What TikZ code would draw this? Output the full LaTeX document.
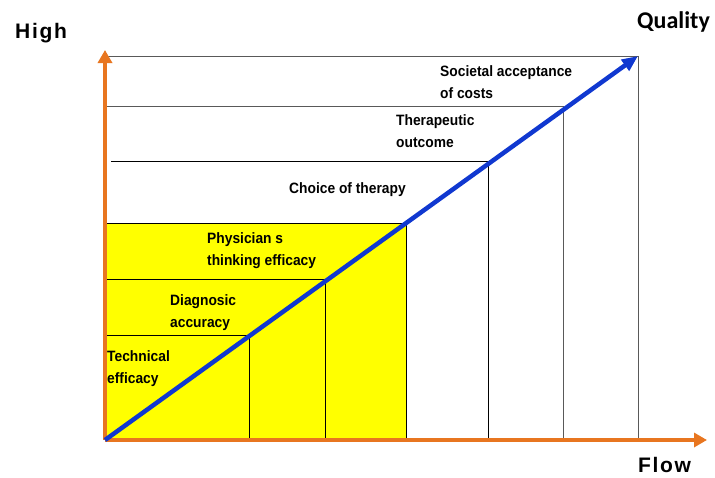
\documentclass[tikz,border=0pt]{standalone}
\usepackage{fontspec}
\usetikzlibrary{arrows.meta}
\newfontfamily\lblfont{Liberation Sans}[FakeStretch=0.92]
\newfontfamily\axfont{Liberation Sans}[LetterSpace=8]
\newfontfamily\qfont{Carlito}
\definecolor{axisorange}{RGB}{232,118,32}
\definecolor{qualblue}{RGB}{16,56,208}
\definecolor{boxyellow}{RGB}{255,255,0}
\tikzset{grid/.style={draw=black,line width=0.8pt},
         greygrid/.style={draw=black!65,line width=1pt},
         axis/.style={draw=axisorange,line width=4.5pt,-{Triangle[width=14pt,length=13pt]}},
         label/.style={font=\lblfont\bfseries\fontsize{15}{21.5}\selectfont,align=left,inner sep=0pt,anchor=base west},
         axlabel/.style={font=\axfont\bfseries\fontsize{21}{24}\selectfont,inner sep=0pt,anchor=base west}}

\begin{document}
\begin{tikzpicture}[x=1pt,y=-1pt]
        \useasboundingbox (0,0) rectangle (715,477);
        \coordinate (O) at (105,440);
        \coordinate (ytop) at (105,50);
        \coordinate (xend) at (707,440);
        \coordinate (q) at (638,56);

        \fill[boxyellow] (105,223) rectangle (406,440);

        \draw[greygrid] (105,56)--(638,56)--(638,440);
        \draw[greygrid] (105,106)--(563,106)--(563,440);
        \draw[grid] (111,161)--(488,161)--(488,440);
        \draw[grid] (105,223)--(406,223)--(406,440);
        \draw[grid] (105,279)--(325,279)--(325,440);
        \draw[grid] (105,335)--(249,335)--(249,440);

        \draw[axis] (O)--(ytop);
        \draw[axis] (O)--(xend);
        \draw[qualblue,line width=4.5pt,-{Triangle[width=13pt,length=16pt]}] (O)--(q);

        \node[axlabel](high)at(15,38){High};
        \node[axlabel](flow)at(638,472){Flow};
        \node[font=\qfont\bfseries\fontsize{24}{28}\selectfont,inner sep=0pt,anchor=base west](quality)at(637,28){Quality};

        % two-line labels sit on the baseline of their last line
        \node[label](soc)at(440,98){Societal acceptance\\of costs};
        \node[label](ther)at(396,147){Therapeutic\\outcome};
        \node[label](choice)at(289,193){Choice of therapy};
        \node[label](phys)at(207,265){Physician s\\thinking efficacy};
        \node[label](diag)at(170,327){Diagnosic\\accuracy};
        \node[label](tech)at(107,383){Technical\\efficacy};
    \end{tikzpicture}
\end{document}
